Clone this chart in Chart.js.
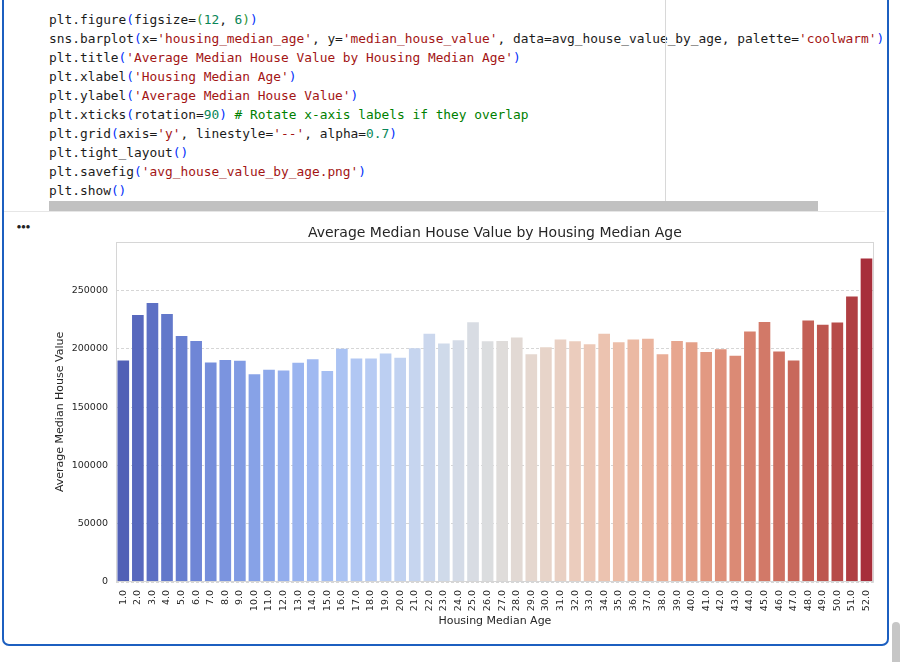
<!DOCTYPE html>
<html>
<head>
<meta charset="utf-8">
<script src="https://cdn.jsdelivr.net/npm/chart.js@4.4.1/dist/chart.umd.min.js"></script>
<style>
  html, body { margin:0; padding:0; background:#fff; width:917px; height:662px; overflow:hidden; }
  #cell { position:absolute; left:2px; top:-20px; height:666px; border:2px solid #1c5fc0; border-radius:7px; box-sizing:border-box; width:887px; }
  #code { position:absolute; left:49px; top:10px; width:833px; overflow:hidden; margin:0;
          font-family:"DejaVu Sans Mono", monospace; font-size:12.85px; line-height:19px; color:#1b1b1b; white-space:pre; }
  .s { color:#a31515; } .n { color:#098658; } .c { color:#008000; } .b1 { color:#0431fa; } .b2 { color:#319331; }
  #ruler { position:absolute; left:665px; top:0; width:1px; height:211px; background:#d8d8d8; }
  #hscroll { position:absolute; left:49px; top:201px; width:769px; height:10px; background:#c1c1c1; }
  #sep { position:absolute; left:4px; top:211px; width:881px; height:1px; background:#e6e6e6; }
  #dots { position:absolute; left:17px; top:224px; font-family:"DejaVu Sans", sans-serif; font-size:4.5px; letter-spacing:0.6px; color:#222; }
  #vscroll { position:absolute; left:892px; top:622px; width:8px; height:50px; background:#c6c6c6; border-radius:4px; }
  #wrap { position:absolute; left:6px; top:212px; width:880px; height:420px; }
</style>
</head>
<body>
<div id="cell"></div>
<pre id="code">plt.figure<span class="b1">(</span>figsize=<span class="b2">(</span><span class="n">12</span>, <span class="n">6</span><span class="b2">)</span><span class="b1">)</span>
sns.barplot<span class="b1">(</span>x=<span class="s">'housing_median_age'</span>, y=<span class="s">'median_house_value'</span>, data=avg_house_value_by_age, palette=<span class="s">'coolwarm'</span><span class="b1">)</span>
plt.title<span class="b1">(</span><span class="s">'Average Median House Value by Housing Median Age'</span><span class="b1">)</span>
plt.xlabel<span class="b1">(</span><span class="s">'Housing Median Age'</span><span class="b1">)</span>
plt.ylabel<span class="b1">(</span><span class="s">'Average Median House Value'</span><span class="b1">)</span>
plt.xticks<span class="b1">(</span>rotation=<span class="n">90</span><span class="b1">)</span> <span class="c"># Rotate x-axis labels if they overlap</span>
plt.grid<span class="b1">(</span>axis=<span class="s">'y'</span>, linestyle=<span class="s">'--'</span>, alpha=<span class="n">0.7</span><span class="b1">)</span>
plt.tight_layout<span class="b1">()</span>
plt.savefig<span class="b1">(</span><span class="s">'avg_house_value_by_age.png'</span><span class="b1">)</span>
plt.show<span class="b1">()</span></pre>
<div id="ruler"></div>
<div id="hscroll"></div>
<div id="sep"></div>
<div id="dots">●●●</div>
<div id="vscroll"></div>
<div id="wrap"><canvas id="chart"></canvas></div>
<script>
// ---- data ----
const ageLabels = ['1.0','2.0','3.0','4.0','5.0','6.0','7.0','8.0','9.0','10.0',
  '11.0','12.0','13.0','14.0','15.0','16.0','17.0','18.0','19.0','20.0',
  '21.0','22.0','23.0','24.0','25.0','26.0','27.0','28.0','29.0','30.0',
  '31.0','32.0','33.0','34.0','35.0','36.0','37.0','38.0','39.0','40.0',
  '41.0','42.0','43.0','44.0','45.0','46.0','47.0','48.0','49.0','50.0',
  '51.0','52.0'];
const avgHouseValue = [190100, 229200, 239500, 230100, 211200, 206900, 188400, 190600, 189900, 178400,
  182100, 181500, 188100, 191200, 181000, 200100, 191800, 191800, 196100, 192400,
  200700, 213000, 204700, 207500, 223000, 206700, 206900, 209900, 195500, 201500,
  208100, 206700, 204100, 213000, 205800, 208100, 208700, 195500, 206900, 205800,
  197500, 199800, 194100, 215000, 223200, 197800, 190100, 224400, 220700, 222700,
  245000, 277600];
const yTickValues = [0, 50000, 100000, 150000, 200000, 250000];
const chartTitle = 'Average Median House Value by Housing Median Age';
const xTitle = 'Housing Median Age';
const yTitle = 'Average Median House Value';

// ---- style: coolwarm colormap (Moreland table) + seaborn saturation 0.75 ----
const coolwarmTable = [[59,76,192],[68,90,204],[77,104,215],[87,117,225],[98,130,234],[108,142,241],
  [119,154,247],[130,165,251],[141,176,254],[152,185,255],[163,194,255],[174,201,253],[184,208,249],
  [194,213,244],[204,217,238],[213,219,230],[221,221,221],[229,216,209],[236,211,197],[241,204,185],
  [245,196,173],[247,187,160],[247,177,148],[247,166,135],[244,154,123],[241,141,111],[236,127,99],
  [229,112,88],[222,96,77],[213,80,66],[203,62,56],[192,40,47],[180,4,38]];
function cmap(t) {
  const p = t * (coolwarmTable.length - 1);
  const i = Math.min(coolwarmTable.length - 2, Math.floor(p));
  const f = p - i;
  return coolwarmTable[i].map((c, k) => (c + (coolwarmTable[i + 1][k] - c) * f) / 255);
}
function desaturate(rgb, s) {
  const [r, g, b] = rgb;
  const mx = Math.max(r, g, b), mn = Math.min(r, g, b);
  const l = (mx + mn) / 2;
  if (mx === mn) return rgb;
  const d = mx - mn;
  const sat = l > 0.5 ? d / (2 - mx - mn) : d / (mx + mn);
  let h;
  if (mx === r) h = ((g - b) / d) % 6; else if (mx === g) h = (b - r) / d + 2; else h = (r - g) / d + 4;
  h /= 6; if (h < 0) h += 1;
  const ns = sat * s;
  const q = l < 0.5 ? l * (1 + ns) : l + ns - l * ns;
  const pp = 2 * l - q;
  const hue2 = (t) => { if (t < 0) t += 1; if (t > 1) t -= 1;
    if (t < 1/6) return pp + (q - pp) * 6 * t; if (t < 1/2) return q;
    if (t < 2/3) return pp + (q - pp) * (2/3 - t) * 6; return pp; };
  return [hue2(h + 1/3), hue2(h), hue2(h - 1/3)];
}
const n = ageLabels.length;
const barColors = ageLabels.map((_, i) => {
  const c = desaturate(cmap((i + 1) / (n + 1)), 0.75);
  return 'rgb(' + c.map(v => Math.round(v * 255)).join(',') + ')';
});

const framePlugin = {
  id: 'frame',
  afterDatasetsDraw(chart) {
    const { ctx, chartArea: a } = chart;
    ctx.save();
    ctx.strokeStyle = '#d6d6d6';
    ctx.lineWidth = 1;
    ctx.strokeRect(Math.round(a.left) + 0.5, Math.round(a.top) + 0.5, Math.round(a.width) - 1, Math.round(a.height) - 1);
    ctx.restore();
  }
};

const FONT = '"DejaVu Sans", sans-serif';
new Chart(document.getElementById('chart'), {
  type: 'bar',
  data: {
    labels: ageLabels,
    datasets: [{ data: avgHouseValue, backgroundColor: barColors, borderWidth: 0,
      categoryPercentage: 0.8, barPercentage: 1.0 }]
  },
  options: {
    responsive: true, maintainAspectRatio: false, animation: false,
    layout: { padding: { left: 0, right: 8, top: 0, bottom: 0 } },
    plugins: {
      legend: { display: false }, tooltip: { enabled: false },
      title: { display: true, text: chartTitle, fullSize: false, color: '#262626',
        font: { family: FONT, size: 14, weight: 'normal' }, padding: { top: 13, bottom: 0 } }
    },
    scales: {
      x: {
        grid: { display: false, drawTicks: false },
        border: { display: false },
        ticks: { color: '#262626', font: { family: FONT, size: 9.5 }, minRotation: 90, maxRotation: 90,
          autoSkip: false, padding: 8 },
        title: { display: true, text: xTitle, color: '#262626', font: { family: FONT, size: 11 },
          padding: { top: 0, bottom: 4.4 } },
        afterFit(scale) { scale.height = 50; }
      },
      y: {
        min: 0, max: 292000,
        grid: { color: '#d6d6d6', lineWidth: 1, drawTicks: false },
        border: { display: false, dash: [3, 2] },
        ticks: { color: '#262626', font: { family: FONT, size: 9.5 }, padding: 8,
          callback: (v) => String(v) },
        afterBuildTicks(scale) { scale.ticks = yTickValues.map(v => ({ value: v })); },
        title: { display: true, text: yTitle, color: '#262626', font: { family: FONT, size: 11 },
          padding: { top: 48, bottom: 0 } },
        afterFit(scale) { scale.width = 110; }
      }
    }
  },
  plugins: [framePlugin]
});
</script>
</body>
</html>
